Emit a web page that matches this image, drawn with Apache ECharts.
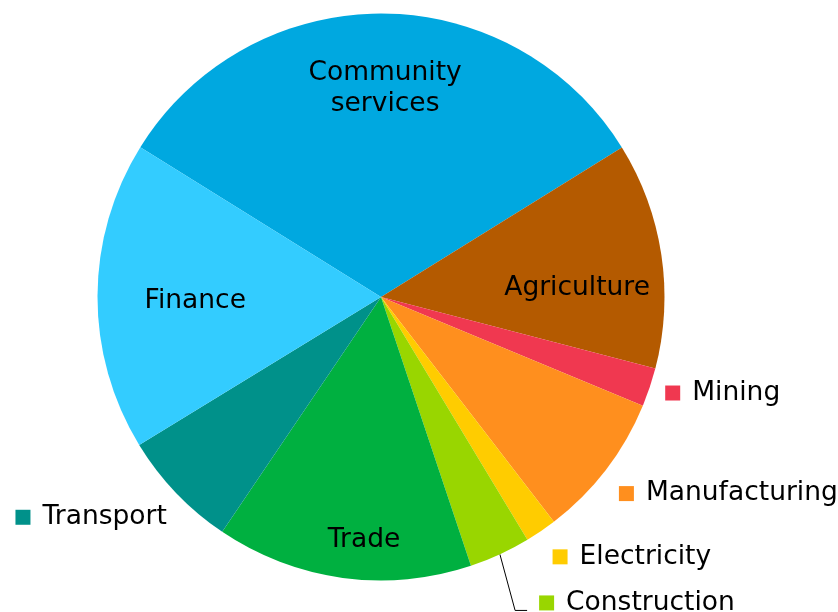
<!DOCTYPE html>
<html>
<head>
<meta charset="utf-8">
<title>Employment by sector</title>
<script src="https://cdn.jsdelivr.net/npm/echarts@6/dist/echarts.min.js"></script>
<style>
  html, body { margin: 0; padding: 0; background: #ffffff; }
  #chart { width: 838px; height: 612px; }
</style>
</head>
<body>
<div id="chart"></div>
<script>
// Sector shares (%), listed clockwise starting with the top slice
const sectors = ['Community services', 'Agriculture', 'Mining', 'Manufacturing',
                 'Electricity', 'Construction', 'Trade', 'Transport', 'Finance'];
const shares = [32.3, 12.9, 2.2, 8.3, 1.8, 3.5, 14.6, 6.8, 17.6];

const sectorColors = ['#00A8E0', '#B45A00', '#F03850', '#FF8F1E',
                      '#FFCC00', '#99D600', '#00B040', '#00918A', '#33CCFF'];

// Slices big enough to carry their own name
const insideLabels = ['Community services', 'Agriculture', 'Trade', 'Finance'];

// Fine offsets applied to each label after ECharts' default placement
const labelNudge = {
  'Community services': [4, -63.5],
  'Agriculture': [53, 12.5],
  'Finance': [-41, 4.6],
  'Trade': [2.7, 100],
  'Mining': [1, 2.5],
  'Manufacturing': [0, 18],
  'Electricity': [1, 17.5],
  'Construction': [30, 39.5],
  'Transport': [3, 17.5]
};

const FONT = 'Verdana, "DejaVu Sans", sans-serif';
const FONT_SIZE = 26.5;

const seriesData = sectors.map(function (name, i) {
  const inside = insideLabels.indexOf(name) >= 0;
  const item = {
    name: name,
    value: shares[i],
    itemStyle: { color: sectorColors[i] },
    labelLine: {
      show: name === 'Construction',
      length: 10,
      length2: 0,
      lineStyle: { color: '#000000', width: 1 }
    }
  };
  if (inside) {
    item.label = {
      position: 'inside',
      formatter: function (p) { return p.name.replace(' ', '\n'); },
      lineHeight: 31
    };
  } else {
    item.label = {
      position: 'outside',
      formatter: '{sq|}{t|' + name + '}',
      rich: {
        sq: { width: 15, height: 15, backgroundColor: sectorColors[i], verticalAlign: 'middle' },
        t: {
          fontFamily: FONT, fontSize: FONT_SIZE, color: '#000000',
          padding: [0, 0, 0, 12], verticalAlign: 'middle', lineHeight: 31
        }
      }
    };
  }
  return item;
});

const chart = echarts.init(document.getElementById('chart'), null, { renderer: 'canvas' });

chart.setOption({
  animation: false,
  backgroundColor: '#ffffff',
  series: [{
    type: 'pie',
    center: [381, 297],
    radius: 283.5,
    startAngle: 148.1,
    clockwise: true,
    avoidLabelOverlap: false,
    itemStyle: { borderWidth: 0 },
    emphasis: { disabled: true },
    label: {
      show: true,
      color: '#000000',
      fontFamily: FONT,
      fontSize: FONT_SIZE,
      textBorderWidth: 0,
      distanceToLabelLine: 5
    },
    labelLayout: function (params) {
      const name = sectors[params.dataIndex];
      const nudge = labelNudge[name] || [0, 0];
      const r = params.labelRect;
      const cy = r.y + r.height / 2 + nudge[1];
      if (insideLabels.indexOf(name) >= 0) {
        return { x: r.x + r.width / 2 + nudge[0], y: cy, align: 'center', verticalAlign: 'middle' };
      }
      const alignRight = params.align === 'right';
      const x = (alignRight ? r.x + r.width : r.x) + nudge[0];
      const out = { x: x, y: cy, align: alignRight ? 'right' : 'left', verticalAlign: 'middle' };
      if (name === 'Construction' && params.labelLinePoints) {
        // leader: from the slice edge down to the foot of the key square, then across
        const start = params.labelLinePoints[0];
        const foot = cy + 7.5;
        out.labelLinePoints = [[start[0], start[1]], [x - 24, foot], [x - 12, foot]];
      }
      return out;
    },
    data: seriesData
  }]
});
</script>
</body>
</html>
